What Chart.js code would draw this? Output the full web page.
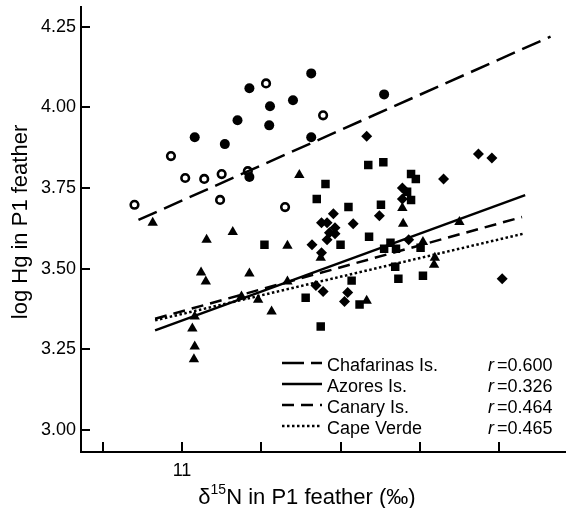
<!DOCTYPE html>
<html>
<head>
<meta charset="utf-8">
<script src="https://cdn.jsdelivr.net/npm/chart.js@4"></script>
<style>
  body { margin: 0; background: #fff; }
  #wrap { width: 572px; height: 508px; }
</style>
</head>
<body>
<div id="wrap"><canvas id="chart" width="572" height="508"></canvas></div>
<script>
// axis ticks
const xTicks = [10, 11, 12, 13, 14, 15];
const xTickLabels = ['', '11', '', '', '', ''];
const yTicks = [3.00, 3.25, 3.50, 3.75, 4.00, 4.25];

// Chafarinas (circles)
const chafFilledX = [11.85, 12.63, 12.11, 12.40, 11.70, 12.10, 11.16, 11.54, 12.63, 11.85, 13.55];
const chafFilledY = [4.059, 4.105, 4.003, 4.022, 3.960, 3.944, 3.907, 3.886, 3.907, 3.784, 4.040];
const chafOpenX = [12.06, 12.78, 10.86, 11.04, 11.28, 11.50, 11.83, 11.48, 12.30, 10.40];
const chafOpenY = [4.074, 3.975, 3.849, 3.781, 3.778, 3.793, 3.802, 3.713, 3.691, 3.698];

// Azores (triangles)
const azoFilledX = [12.48, 11.31, 11.64, 12.33, 11.24, 11.16, 11.13, 11.75, 12.13, 12.33, 12.75, 13.79, 13.78, 13.33, 14.19, 14.18];
const azoFilledY = [3.790, 3.590, 3.614, 3.571, 3.488, 3.352, 3.315, 3.414, 3.367, 3.460, 3.534, 3.639, 3.688, 3.401, 3.534, 3.512];
const azoOpenX = [10.63, 11.30, 11.85, 11.16, 11.15, 11.96, 14.50, 14.04];
const azoOpenY = [3.642, 3.460, 3.485, 3.259, 3.219, 3.404, 3.645, 3.583];

// Canary (diamonds)
const canFilledX = [13.33, 14.74, 14.91, 14.30, 13.78, 13.78, 12.91, 12.76, 12.83, 12.93, 12.86, 12.83, 12.64, 13.49, 13.86, 12.69, 15.04];
const canFilledY = [3.910, 3.855, 3.843, 3.778, 3.750, 3.716, 3.670, 3.642, 3.642, 3.627, 3.611, 3.590, 3.574, 3.664, 3.590, 3.448, 3.469];
const canOpenX = [13.16, 12.93, 12.76, 12.78, 13.09, 13.05];
const canOpenY = [3.639, 3.608, 3.549, 3.429, 3.426, 3.398];

// Cape Verde (squares)
const capeFilledX = [12.70, 12.04, 13.35, 13.54, 13.89, 13.84, 13.89, 13.55, 13.70, 13.24];
const capeFilledY = [3.716, 3.574, 3.821, 3.830, 3.793, 3.738, 3.713, 3.562, 3.562, 3.389];
const capeOpenX = [12.81, 13.95, 13.10, 13.51, 13.36, 13.00, 13.63, 14.01, 13.69, 13.73, 14.04, 13.14, 12.56, 12.75];
const capeOpenY = [3.762, 3.778, 3.691, 3.698, 3.599, 3.574, 3.580, 3.565, 3.506, 3.469, 3.478, 3.463, 3.410, 3.321];

// regression lines (end points)
const chafLineX = [10.45, 15.65];
const chafLineY = [3.651, 4.219];
const azoLineX = [10.66, 15.33];
const azoLineY = [3.309, 3.728];
const canLineX = [10.66, 15.29];
const canLineY = [3.345, 3.660];
const capeLineX = [10.66, 15.30];
const capeLineY = [3.340, 3.608];

// legend
const legendNames = ['Chafarinas Is.', 'Azores Is.', 'Canary Is.', 'Cape Verde'];
const legendR = ['0.600', '0.326', '0.464', '0.465'];
const legendDash = [[22, 7], [], [12, 7], [2.5, 2.5]];

const FONT = '"Liberation Sans", Arial, sans-serif';

const pts = (xs, ys) => xs.map((x, i) => ({ x: x, y: ys[i] }));

function marks(xs, ys, style, r, color) {
  return {
    data: pts(xs, ys), pointStyle: style, pointRadius: r,
    backgroundColor: color, borderColor: color, borderWidth: 0, showLine: false
  };
}
function ring(xs, ys, r, bw) {
  return {
    data: pts(xs, ys), pointStyle: 'circle', pointRadius: r,
    backgroundColor: '#fff', borderColor: '#000', borderWidth: bw, showLine: false
  };
}
function regLine(xs, ys, dash) {
  return {
    data: pts(xs, ys), showLine: true, pointRadius: 0, borderColor: '#000',
    borderWidth: 2.5, borderDash: dash, fill: false
  };
}

const textPlugin = {
  id: 'texts',
  afterDraw(chart) {
    const ctx = chart.ctx;
    ctx.save();
    ctx.fillStyle = '#000';
    ctx.strokeStyle = '#000';

    // legend
    legendNames.forEach((name, i) => {
      const y = 363 + i * 21;
      ctx.beginPath();
      ctx.lineWidth = 2.5;
      ctx.setLineDash(legendDash[i]);
      ctx.moveTo(282, y);
      ctx.lineTo(322, y);
      ctx.stroke();
      ctx.setLineDash([]);
      ctx.textBaseline = 'alphabetic';
      ctx.textAlign = 'left';
      ctx.font = '18px ' + FONT;
      ctx.fillText(name, 327, y + 8);
      ctx.font = 'italic 18px ' + FONT;
      ctx.fillText('r', 488, y + 8);
      ctx.font = '18px ' + FONT;
      ctx.fillText('=' + legendR[i], 497, y + 8);
    });

    // x axis title with superscript
    const big = '22px ' + FONT, small = '14px ' + FONT;
    ctx.font = big;
    const w1 = ctx.measureText('\u03b4').width;
    const w3 = ctx.measureText('N in P1 feather (\u2030)').width;
    ctx.font = small;
    const w2 = ctx.measureText('15').width;
    let x = 307 - (w1 + w2 + w3) / 2;
    ctx.font = big;
    ctx.fillText('\u03b4', x, 504);
    ctx.font = small;
    ctx.fillText('15', x + w1, 494);
    ctx.font = big;
    ctx.fillText('N in P1 feather (\u2030)', x + w1 + w2, 504);

    // y axis title
    ctx.translate(21, 222);
    ctx.rotate(-Math.PI / 2);
    ctx.textAlign = 'center';
    ctx.textBaseline = 'middle';
    ctx.font = big;
    ctx.fillText('log Hg in P1 feather', 0, 0);
    ctx.restore();
  }
};

new Chart(document.getElementById('chart'), {
  type: 'scatter',
  data: {
    datasets: [
      regLine(chafLineX, chafLineY, [20, 8]),
      regLine(azoLineX, azoLineY, []),
      regLine(canLineX, canLineY, [12, 7]),
      regLine(capeLineX, capeLineY, [2.5, 2.5]),
      marks(chafFilledX, chafFilledY, 'circle', 5, '#000'),
      ring(chafOpenX, chafOpenY, 3.8, 2.6),
      marks(azoFilledX, azoFilledY, 'triangle', 6, '#000'),
      marks(azoOpenX, azoOpenY, 'triangle', 6, '#000'),
      marks(azoOpenX, azoOpenY, 'circle', 1.5, '#fff'),
      marks(canFilledX, canFilledY, 'rectRot', 5.5, '#000'),
      marks(canOpenX, canOpenY, 'rectRot', 5.5, '#000'),
      marks(canOpenX, canOpenY, 'rectRot', 2.2, '#fff'),
      marks(capeFilledX, capeFilledY, 'rect', 6, '#000'),
      marks(capeOpenX, capeOpenY, 'rect', 6, '#000'),
      marks(capeOpenX, capeOpenY, 'rect', 2.4, '#fff')
    ]
  },
  options: {
    responsive: false,
    animation: false,
    layout: { padding: { top: 5, right: 2, left: 0, bottom: 0 } },
    plugins: { legend: { display: false }, tooltip: { enabled: false } },
    scales: {
      x: {
        min: 9.725, max: 15.8375,
        afterBuildTicks: (s) => { s.ticks = xTicks.map(v => ({ value: v })); },
        afterFit: (s) => { s.height = 56; s.paddingLeft = 0; s.paddingRight = 0; },
        ticks: {
          padding: 18, color: '#000', font: { size: 18, family: FONT },
          maxRotation: 0, autoSkip: false,
          callback: (v, i) => xTickLabels[i]
        },
        grid: { drawOnChartArea: false, drawTicks: true, tickLength: -10, lineWidth: 2, color: '#000' },
        border: { display: true, width: 2, color: '#000' }
      },
      y: {
        min: 2.932, max: 4.312,
        afterBuildTicks: (s) => { s.ticks = yTicks.map(v => ({ value: v })); },
        afterFit: (s) => { s.width = 81; s.paddingTop = 0; s.paddingBottom = 0; },
        ticks: {
          padding: 14, color: '#000', font: { size: 18, family: FONT },
          autoSkip: false,
          callback: (v) => Number(v).toFixed(2)
        },
        grid: { drawOnChartArea: false, drawTicks: true, tickLength: -9, lineWidth: 2, color: '#000' },
        border: { display: true, width: 2, color: '#000' }
      }
    }
  },
  plugins: [textPlugin]
});
</script>
</body>
</html>
